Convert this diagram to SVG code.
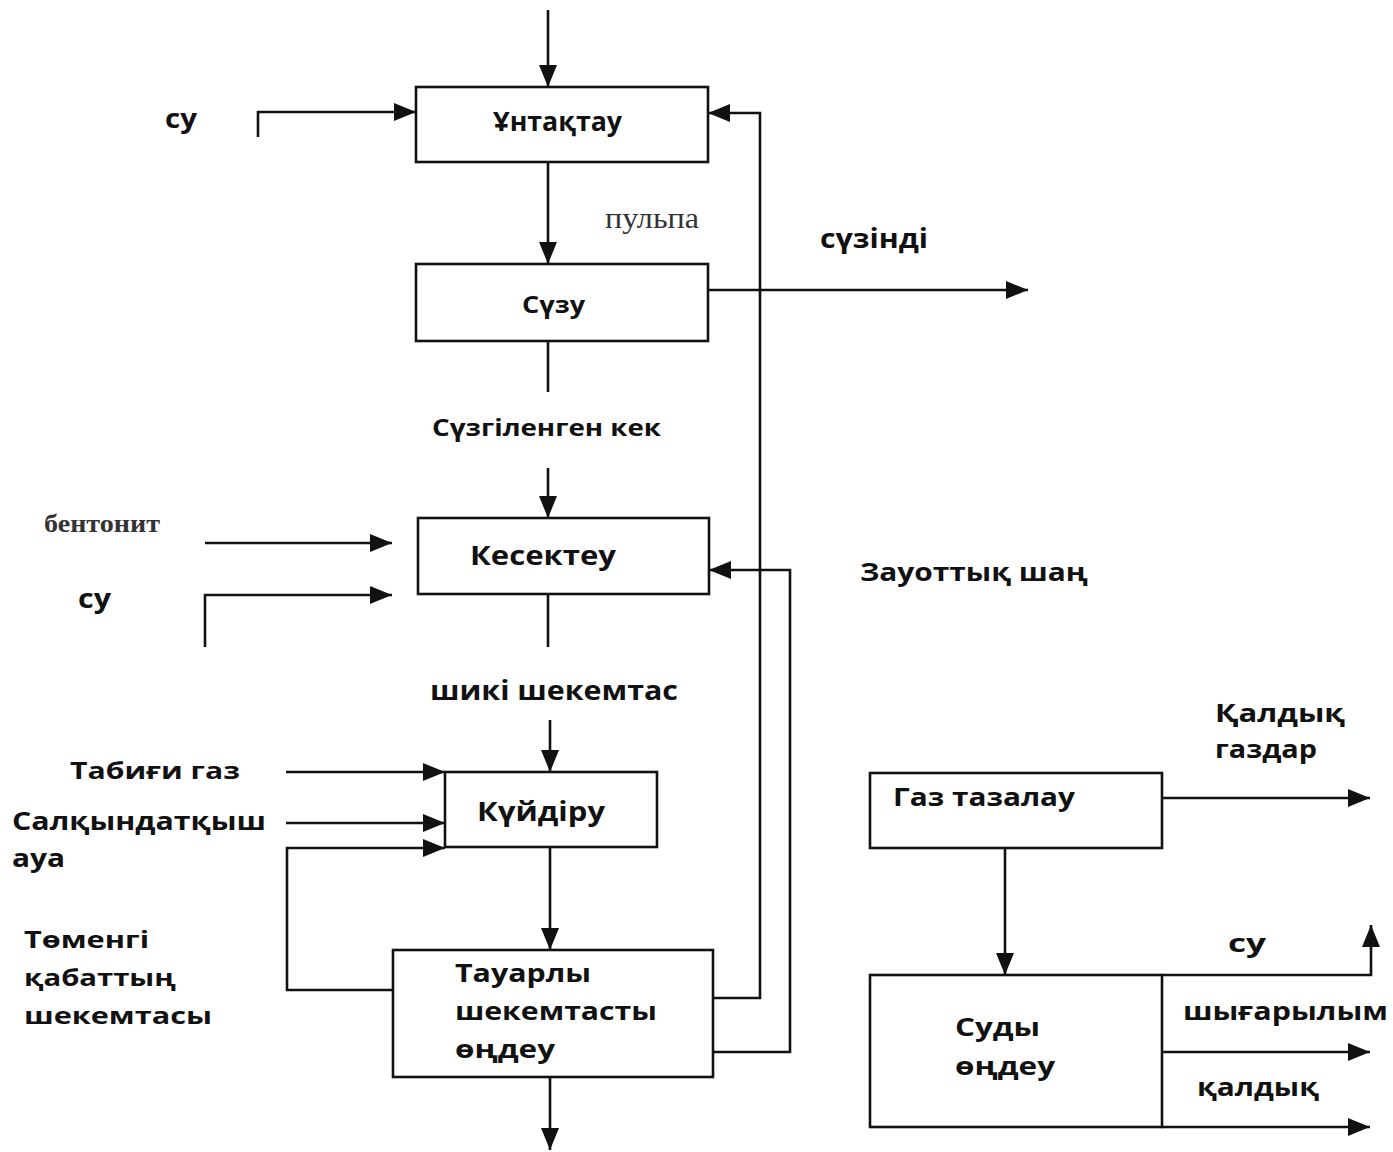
<svg xmlns="http://www.w3.org/2000/svg" width="1393" height="1152" viewBox="0 0 1393 1152">
<defs>
<marker id="ah" markerUnits="userSpaceOnUse" markerWidth="24" markerHeight="20" refX="22" refY="10" orient="auto">
<path d="M0,1 L22,10 L0,19 Z" fill="#111"/>
</marker>
<style>
.box{fill:#fff;stroke:#111;stroke-width:2.6}
.ln{fill:none;stroke:#111;stroke-width:2.6}
.ar{fill:none;stroke:#111;stroke-width:2.6;marker-end:url(#ah)}
.t{font-family:"Open Sans","Liberation Sans",sans-serif;font-weight:700;fill:#111}
.s{font-family:"Liberation Serif","DejaVu Serif",serif;fill:#333}
</style>
</defs>
<rect width="1393" height="1152" fill="#fff"/>
<g id="connectors">
<line class="ar" x1="548" y1="10" x2="548" y2="87"/>
<path class="ar" d="M258,137 V112 H416"/>
<line class="ar" x1="548" y1="162" x2="548" y2="264"/>
<path class="ar" d="M708,290 H1028"/>
<line class="ln" x1="548" y1="341" x2="548" y2="392"/>
<line class="ar" x1="548" y1="468" x2="548" y2="518"/>
<line class="ar" x1="205" y1="543" x2="392" y2="543"/>
<path class="ar" d="M205,647 V595 H392"/>
<line class="ln" x1="548" y1="594" x2="548" y2="647"/>
<line class="ar" x1="550" y1="720" x2="550" y2="772"/>
<line class="ar" x1="286" y1="772" x2="445" y2="772"/>
<line class="ar" x1="286" y1="823" x2="445" y2="823"/>
<path class="ar" d="M393,990 H287 V848 H445"/>
<line class="ar" x1="550" y1="847" x2="550" y2="950"/>
<line class="ar" x1="550" y1="1077" x2="550" y2="1150"/>
<path class="ar" d="M713,998 H760 V113 H708"/>
<path class="ar" d="M713,1052 H790 V570 H709"/>
<line class="ar" x1="1162" y1="798" x2="1370" y2="798"/>
<line class="ar" x1="1005" y1="848" x2="1005" y2="975"/>
<path class="ar" d="M1162,975 H1371 V925"/>
<line class="ar" x1="1162" y1="1052" x2="1370" y2="1052"/>
<line class="ar" x1="1162" y1="1127" x2="1370" y2="1127"/>
</g>
<g id="n-untaqtau"><rect class="box" x="416" y="87" width="292" height="75"/><text class="t" x="493" y="131" font-size="26" textLength="129" lengthAdjust="spacingAndGlyphs">Ұнтақтау</text></g>
<g id="n-suzu"><rect class="box" x="416" y="264" width="292" height="77"/><text class="t" x="522" y="313" font-size="24" textLength="63" lengthAdjust="spacingAndGlyphs">Сүзу</text></g>
<g id="n-kesektey"><rect class="box" x="418" y="518" width="291" height="76"/><text class="t" x="470" y="565" font-size="27" textLength="146" lengthAdjust="spacingAndGlyphs">Кесектеу</text></g>
<g id="n-kuidiru"><rect class="box" x="445" y="772" width="212" height="75"/><text class="t" x="477" y="821" font-size="27" textLength="128" lengthAdjust="spacingAndGlyphs">Күйдіру</text></g>
<g id="n-tauarly"><rect class="box" x="393" y="950" width="320" height="127"/>
<text class="t" x="455" y="982" font-size="25" textLength="136" lengthAdjust="spacingAndGlyphs">Тауарлы</text>
<text class="t" x="455" y="1020" font-size="25" textLength="202" lengthAdjust="spacingAndGlyphs">шекемтасты</text>
<text class="t" x="455" y="1058" font-size="25" textLength="100" lengthAdjust="spacingAndGlyphs">өңдеу</text></g>
<g id="n-gaz"><rect class="box" x="870" y="773" width="292" height="75"/><text class="t" x="893" y="806" font-size="25" textLength="182" lengthAdjust="spacingAndGlyphs">Газ тазалау</text></g>
<g id="n-sudy"><rect class="box" x="870" y="975" width="292" height="152"/>
<text class="t" x="955" y="1036" font-size="25" textLength="85" lengthAdjust="spacingAndGlyphs">Суды</text>
<text class="t" x="955" y="1075" font-size="25" textLength="100" lengthAdjust="spacingAndGlyphs">өңдеу</text></g>
<g id="labels">
<text class="t" x="165" y="128" font-size="26" textLength="32" lengthAdjust="spacingAndGlyphs">су</text>
<text class="s" x="605" y="228" font-size="30" textLength="94" lengthAdjust="spacingAndGlyphs">пульпа</text>
<text class="t" x="820" y="248" font-size="26" textLength="108" lengthAdjust="spacingAndGlyphs">сүзінді</text>
<text class="t" x="432" y="436" font-size="23" textLength="229" lengthAdjust="spacingAndGlyphs">Сүзгіленген кек</text>
<text class="s" x="44" y="532" font-size="26" font-weight="700" textLength="116" lengthAdjust="spacingAndGlyphs">бентонит</text>
<text class="t" x="78" y="608" font-size="26" textLength="33" lengthAdjust="spacingAndGlyphs">су</text>
<text class="t" x="860" y="581" font-size="25" textLength="228" lengthAdjust="spacingAndGlyphs">Зауоттық шаң</text>
<text class="t" x="430" y="700" font-size="26" textLength="248" lengthAdjust="spacingAndGlyphs">шикі шекемтас</text>
<text class="t" x="70" y="779" font-size="24" textLength="170" lengthAdjust="spacingAndGlyphs">Табиғи газ</text>
<text class="t" x="12" y="830" font-size="25" textLength="254" lengthAdjust="spacingAndGlyphs">Салқындатқыш</text>
<text class="t" x="12" y="867" font-size="25" textLength="53" lengthAdjust="spacingAndGlyphs">ауа</text>
<text class="t" x="24" y="948" font-size="24" textLength="125" lengthAdjust="spacingAndGlyphs">Төменгі</text>
<text class="t" x="24" y="986" font-size="24" textLength="152" lengthAdjust="spacingAndGlyphs">қабаттың</text>
<text class="t" x="24" y="1024" font-size="24" textLength="188" lengthAdjust="spacingAndGlyphs">шекемтасы</text>
<text class="t" x="1215" y="722" font-size="25" textLength="130" lengthAdjust="spacingAndGlyphs">Қалдық</text>
<text class="t" x="1215" y="758" font-size="25" textLength="102" lengthAdjust="spacingAndGlyphs">газдар</text>
<text class="t" x="1228" y="952" font-size="25" textLength="38" lengthAdjust="spacingAndGlyphs">су</text>
<text class="t" x="1183" y="1020" font-size="25" textLength="205" lengthAdjust="spacingAndGlyphs">шығарылым</text>
<text class="t" x="1197" y="1096" font-size="25" textLength="122" lengthAdjust="spacingAndGlyphs">қалдық</text>
</g>
</svg>
